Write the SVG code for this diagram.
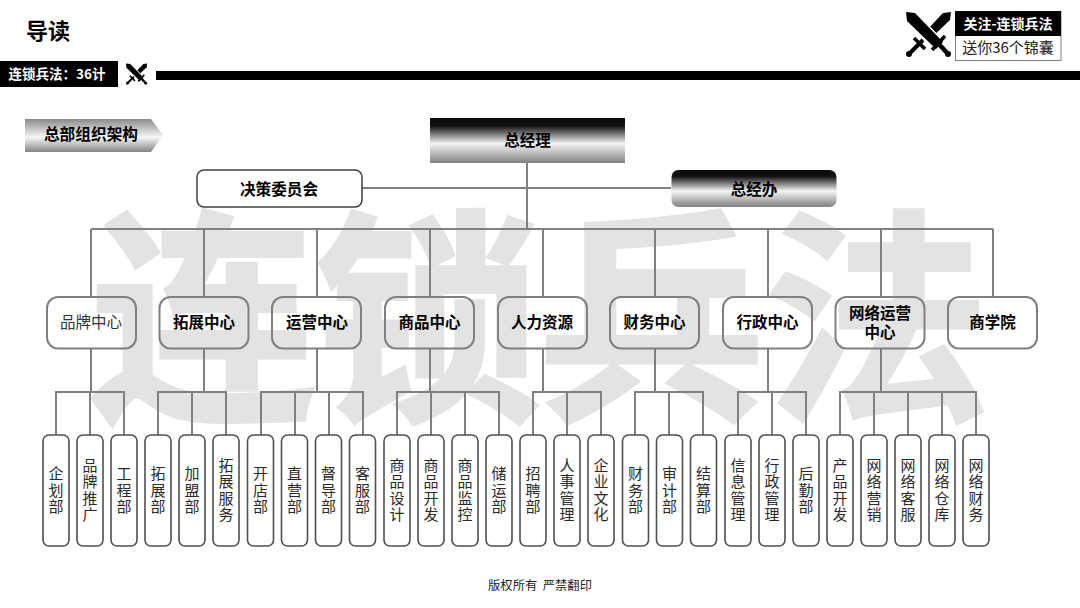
<svg xmlns="http://www.w3.org/2000/svg" xmlns:xlink="http://www.w3.org/1999/xlink" width="1080" height="608" viewBox="0 0 1080 608">
<style>
text{font-family:"Noto Sans CJK SC","Noto Sans",sans-serif;fill:#000;text-anchor:middle}
.b{font-weight:700}
.mid{fill:none;stroke:#808080;stroke-width:2}
.leaf{fill:#fff;stroke:#505050;stroke-width:1.6}
.m{font-size:15.5px;font-weight:700}
.v{font-size:15px;writing-mode:vertical-rl;letter-spacing:1.300px;fill:#2a2a2a}
.c{fill:none;stroke:#808080;stroke-width:2}
.wm{fill:#e3e3e3;stroke:#e3e3e3;stroke-width:4;font-weight:700;font-size:226px}
</style>
<defs>
<linearGradient id="g1" x1="0" y1="0" x2="0" y2="1">
<stop offset="0" stop-color="#0a0a0a"/><stop offset=".17" stop-color="#111"/><stop offset=".57" stop-color="#f4f4f4"/><stop offset="1" stop-color="#808080"/>
</linearGradient>
<linearGradient id="g2" x1="0" y1="0" x2="0" y2="1">
<stop offset="0" stop-color="#8a8a8a"/><stop offset=".55" stop-color="#f6f6f6"/><stop offset="1" stop-color="#858585"/>
</linearGradient>
<g id="sw">
<path d="M45 0L44 8L24 27L18 21L37 1Z"/>
<path d="M8 26L19 37" stroke="#000" stroke-width="3.500"/>
<path d="M17 28L3 42" stroke="#000" stroke-width="4"/>
<circle cx="3" cy="42" r="3"/>
<path d="M0 0L9 1L37 30L30 37L1 9Z" stroke="#fff" stroke-width="3"/>
<path d="M0 0L9 1L37 30L30 37L1 9Z"/>
<path d="M26 38L39 24" stroke="#000" stroke-width="3.500"/>
<path d="M32 31L42 42" stroke="#000" stroke-width="4.500"/>
<circle cx="42" cy="42" r="3"/>
</g>
</defs>
<rect width="1080" height="608" fill="#fff"/>
<g id="watermark">
<text class="wm" x="203" y="403">连</text>
<text class="wm" x="428" y="403">锁</text>
<text class="wm" x="652" y="403">兵</text>
<text class="wm" x="877" y="403">法</text>
</g>
<g id="header">
<text class="b" x="48" y="39" font-size="22">导读</text>
<rect x="0" y="61" width="118" height="26" fill="#000"/>
<text class="b" x="57" y="79" font-size="13.500" style="fill:#fff">连锁兵法：36计</text>
<use xlink:href="#sw" transform="translate(126 63.500) scale(.47)"/>
<rect x="156" y="71" width="924" height="9" fill="#000"/>
<use xlink:href="#sw" transform="translate(906 12)"/>
<rect x="955.500" y="11.500" width="105.500" height="49" fill="#fff" stroke="#808080"/>
<rect x="955" y="11" width="106" height="25" fill="#000"/>
<text class="b" x="1008" y="29" font-size="14" style="fill:#fff">关注-连锁兵法</text>
<text x="1008" y="53" font-size="15" style="fill:#222">送你36个锦囊</text>
</g>
<g id="section-tag">
<path d="M25 119H151L163 135L151 152H25Z" fill="url(#g2)"/>
<text class="b" x="91" y="140" font-size="15.700">总部组织架构</text>
</g>
<g id="connectors">
<path class="c" d="M527 163V229M362 188H671M91 229H993M91 229V297M204 229V297M317 229V297M430 229V297M543 229V297M655 229V297M768 229V297M881 229V297M993 229V297"/>
<path class="c" d="M91 348V392M56 435V392H124V435M90 392V435"/>
<path class="c" d="M204 348V392M158 435V392H226V435M192 392V435"/>
<path class="c" d="M317 348V392M261 435V392H363V435M295 392V435M329 392V435"/>
<path class="c" d="M430 348V392M397 435V392H499V435M431 392V435M465 392V435"/>
<path class="c" d="M543 348V392M533 435V392H601V435M567 392V435"/>
<path class="c" d="M655 348V392M635 435V392H703V435M669 392V435"/>
<path class="c" d="M768 348V392M738 435V392H806V435M772 392V435"/>
<path class="c" d="M881 348V392M840 435V392H976V435M874 392V435M908 392V435M942 392V435"/>
</g>
<g id="n-gm"><rect x="430" y="118" width="195" height="45" fill="url(#g1)"/><text class="b" x="527.500" y="146" font-size="15.500">总经理</text></g>
<g id="n-committee"><rect x="197" y="170" width="165" height="37" rx="7" fill="#fff" stroke="#404040" stroke-width="1.500"/><text class="b" x="279" y="194.500" font-size="15.600">决策委员会</text></g>
<g id="n-office"><rect x="671.500" y="170" width="165" height="37" rx="7" fill="url(#g1)"/><text class="b" x="754" y="195" font-size="15.500">总经办</text></g>
<g id="m1"><rect class="mid" x="47" y="297" width="89" height="51.500" rx="11"/><text x="91" y="328" font-size="15.500" style="fill:#333">品牌中心</text></g>
<g id="m2"><rect class="mid" x="159.500" y="297" width="89" height="51.500" rx="11"/><text class="m" x="204" y="328">拓展中心</text></g>
<g id="m3"><rect class="mid" x="272" y="297" width="89" height="51.500" rx="11"/><text class="m" x="317" y="328">运营中心</text></g>
<g id="m4"><rect class="mid" x="385" y="297" width="89" height="51.500" rx="11"/><text class="m" x="429.500" y="328">商品中心</text></g>
<g id="m5"><rect class="mid" x="498" y="297" width="89" height="51.500" rx="11"/><text class="m" x="542" y="328">人力资源</text></g>
<g id="m6"><rect class="mid" x="610" y="297" width="89" height="51.500" rx="11"/><text class="m" x="654.500" y="328">财务中心</text></g>
<g id="m7"><rect class="mid" x="723" y="297" width="89" height="51.500" rx="11"/><text class="m" x="767.500" y="328">行政中心</text></g>
<g id="m8"><rect class="mid" x="835.500" y="297" width="89" height="51.500" rx="11"/><text class="m" x="880" y="318.500">网络运营</text><text class="m" x="880" y="337.500">中心</text></g>
<g id="m9"><rect class="mid" x="948" y="297" width="89" height="51.500" rx="11"/><text class="m" x="992.500" y="328">商学院</text></g>
<g id="leaves">
<g id="l1"><rect class="leaf" x="43" y="435" width="26" height="111" rx="6"/><text class="v" x="56" y="490.500">企划部</text></g>
<g id="l2"><rect class="leaf" x="77" y="435" width="26" height="111" rx="6"/><text class="v" x="90" y="490.500">品牌推广</text></g>
<g id="l3"><rect class="leaf" x="111" y="435" width="26" height="111" rx="6"/><text class="v" x="124" y="490.500">工程部</text></g>
<g id="l4"><rect class="leaf" x="145" y="435" width="26" height="111" rx="6"/><text class="v" x="158" y="490.500">拓展部</text></g>
<g id="l5"><rect class="leaf" x="179" y="435" width="26" height="111" rx="6"/><text class="v" x="192" y="490.500">加盟部</text></g>
<g id="l6"><rect class="leaf" x="213" y="435" width="26" height="111" rx="6"/><text class="v" x="226" y="490.500">拓展服务</text></g>
<g id="l7"><rect class="leaf" x="247.500" y="435" width="26" height="111" rx="6"/><text class="v" x="260.500" y="490.500">开店部</text></g>
<g id="l8"><rect class="leaf" x="281.500" y="435" width="26" height="111" rx="6"/><text class="v" x="294.500" y="490.500">直营部</text></g>
<g id="l9"><rect class="leaf" x="315.500" y="435" width="26" height="111" rx="6"/><text class="v" x="328.500" y="490.500">督导部</text></g>
<g id="l10"><rect class="leaf" x="349.500" y="435" width="26" height="111" rx="6"/><text class="v" x="362.500" y="490.500">客服部</text></g>
<g id="l11"><rect class="leaf" x="384" y="435" width="26" height="111" rx="6"/><text class="v" x="397" y="490.500">商品设计</text></g>
<g id="l12"><rect class="leaf" x="418" y="435" width="26" height="111" rx="6"/><text class="v" x="431" y="490.500">商品开发</text></g>
<g id="l13"><rect class="leaf" x="452" y="435" width="26" height="111" rx="6"/><text class="v" x="465" y="490.500">商品监控</text></g>
<g id="l14"><rect class="leaf" x="486" y="435" width="26" height="111" rx="6"/><text class="v" x="499" y="490.500">储运部</text></g>
<g id="l15"><rect class="leaf" x="520" y="435" width="26" height="111" rx="6"/><text class="v" x="533" y="490.500">招聘部</text></g>
<g id="l16"><rect class="leaf" x="554" y="435" width="26" height="111" rx="6"/><text class="v" x="567" y="490.500">人事管理</text></g>
<g id="l17"><rect class="leaf" x="588" y="435" width="26" height="111" rx="6"/><text class="v" x="601" y="490.500">企业文化</text></g>
<g id="l18"><rect class="leaf" x="622.500" y="435" width="26" height="111" rx="6"/><text class="v" x="635.500" y="490.500">财务部</text></g>
<g id="l19"><rect class="leaf" x="656.500" y="435" width="26" height="111" rx="6"/><text class="v" x="669.500" y="490.500">审计部</text></g>
<g id="l20"><rect class="leaf" x="690.500" y="435" width="26" height="111" rx="6"/><text class="v" x="703.500" y="490.500">结算部</text></g>
<g id="l21"><rect class="leaf" x="725" y="435" width="26" height="111" rx="6"/><text class="v" x="738" y="490.500">信息管理</text></g>
<g id="l22"><rect class="leaf" x="759" y="435" width="26" height="111" rx="6"/><text class="v" x="772" y="490.500">行政管理</text></g>
<g id="l23"><rect class="leaf" x="793" y="435" width="26" height="111" rx="6"/><text class="v" x="806" y="490.500">后勤部</text></g>
<g id="l24"><rect class="leaf" x="827" y="435" width="26" height="111" rx="6"/><text class="v" x="840" y="490.500">产品开发</text></g>
<g id="l25"><rect class="leaf" x="861" y="435" width="26" height="111" rx="6"/><text class="v" x="874" y="490.500">网络营销</text></g>
<g id="l26"><rect class="leaf" x="895" y="435" width="26" height="111" rx="6"/><text class="v" x="908" y="490.500">网络客服</text></g>
<g id="l27"><rect class="leaf" x="929" y="435" width="26" height="111" rx="6"/><text class="v" x="942" y="490.500">网络仓库</text></g>
<g id="l28"><rect class="leaf" x="963" y="435" width="26" height="111" rx="6"/><text class="v" x="976" y="490.500">网络财务</text></g>
</g>
<text id="footer" x="540" y="590" font-size="12.300" style="fill:#222">版权所有&#160;&#160;严禁翻印</text>
</svg>
